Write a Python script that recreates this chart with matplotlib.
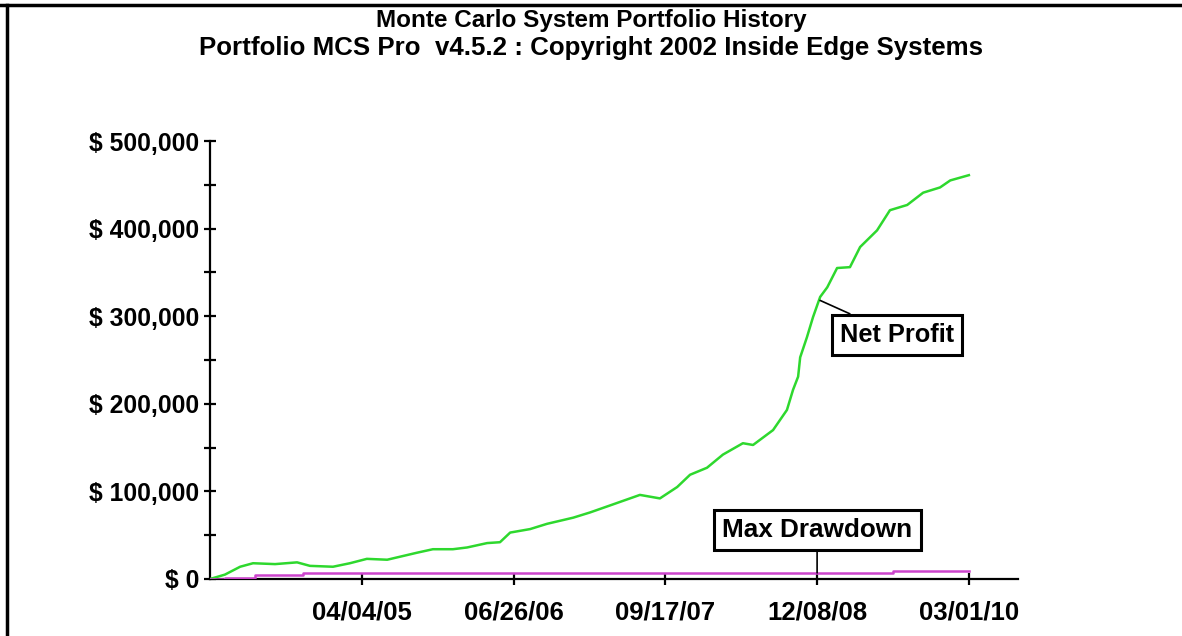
import matplotlib
matplotlib.use("Agg")
import matplotlib.pyplot as plt
import pandas as pd
from matplotlib.lines import Line2D
from matplotlib.ticker import FuncFormatter, MultipleLocator

# ---- data ----
profit_dates = [
    "2004-01-12", "2004-02-25", "2004-04-10", "2004-05-18", "2004-07-22", "2004-09-25",
    "2004-11-02", "2005-01-09", "2005-02-28", "2005-04-19", "2005-06-18", "2005-09-14",
    "2005-10-31", "2005-12-29", "2006-02-09", "2006-04-09", "2006-05-17", "2006-06-16",
    "2006-08-14", "2006-10-03", "2006-12-19", "2007-02-07", "2007-04-07", "2007-05-21",
    "2007-07-04", "2007-09-01", "2007-10-22", "2007-11-29", "2008-01-18", "2008-03-05",
    "2008-05-03", "2008-06-02", "2008-07-31", "2008-09-10", "2008-09-28", "2008-10-13",
    "2008-10-19", "2008-11-08", "2008-11-26", "2008-12-17", "2009-01-07", "2009-02-05",
    "2009-03-15", "2009-04-14", "2009-06-03", "2009-07-11", "2009-08-31", "2009-10-17",
    "2009-12-06", "2010-01-05", "2010-03-01",
]
profit_values = [
    0, 5000, 14000, 18000, 17000, 19000,
    15000, 14000, 18000, 23000, 22000, 30000,
    34000, 34000, 36000, 41000, 42000, 53000,
    57000, 63000, 70000, 76000, 84000, 90000,
    96000, 92000, 105000, 119000, 127000, 142000,
    155000, 153000, 170000, 193000, 216000, 231000,
    253000, 276000, 299000, 322000, 333000, 355000,
    356000, 379000, 398000, 421000, 427000, 441000,
    447000, 455000, 461000,
]

drawdown_dates = ["2004-01-12", "2004-02-25", "2004-05-24", "2004-10-12", "2009-07-20", "2010-03-01"]
drawdown_values = [0, 1500, 4500, 7000, 9000, 9000]

tick_dates = ["2005-04-04", "2006-06-26", "2007-09-17", "2008-12-08", "2010-03-01"]
tick_labels = ["04/04/05", "06/26/06", "09/17/07", "12/08/08", "03/01/10"]
y_ticks = [0, 100000, 200000, 300000, 400000, 500000]

title_lines = ["Monte Carlo System Portfolio History",
               "Portfolio MCS Pro  v4.5.2 : Copyright 2002 Inside Edge Systems"]

# ---- figure ----
W, H = 1182, 636
fig = plt.figure(figsize=(W / 100, H / 100), dpi=100)
fig.patch.set_facecolor("white")
plt.rcParams["font.family"] = ["Liberation Sans", "DejaVu Sans"]

def fx(px):
    return px / W

def fy(py):
    return 1 - py / H

ax = fig.add_axes([fx(210), fy(579), fx(1018) - fx(210), fy(141) - fy(579)])

pd_profit = pd.to_datetime(profit_dates)
pd_dd = pd.to_datetime(drawdown_dates)

ax.plot(pd_profit, profit_values, color="#2ed82e", lw=1.8, zorder=3)
ax.plot(pd_dd, drawdown_values, color="#cc44cc", lw=1.8, drawstyle="steps-post", zorder=3)

ax.set_xlim(pd.Timestamp("2004-01-12"), pd.Timestamp("2010-07-24"))
ax.set_ylim(0, 500000)

for s in ["top", "right"]:
    ax.spines[s].set_visible(False)
for s in ["left", "bottom"]:
    ax.spines[s].set_linewidth(1.6)
    ax.spines[s].set_color("black")
    ax.spines[s].set_zorder(2)

ax.set_xticks(pd.to_datetime(tick_dates))
ax.set_xticklabels(tick_labels)
ax.set_yticks(y_ticks)
ax.yaxis.set_major_formatter(FuncFormatter(lambda v, p: "$ 0" if v == 0 else "$ {:,.0f}".format(v)))
ax.yaxis.set_minor_locator(MultipleLocator(50000))

ax.tick_params(axis="both", which="both", direction="inout", length=9, width=1.6, colors="black")
ax.tick_params(axis="y", which="major", pad=3, labelsize=17.8)
ax.tick_params(axis="x", which="major", pad=11, labelsize=18.5)
for lab in ax.get_xticklabels() + ax.get_yticklabels():
    lab.set_fontweight("bold")

# titles
fig.text(0.5, fy(21), title_lines[0], ha="center", va="center", fontsize=17.5, fontweight="bold")
fig.text(0.5, fy(48), title_lines[1], ha="center", va="center", fontsize=18.6, fontweight="bold")

# annotations
ax.annotate("Net Profit", xy=(pd.Timestamp("2008-12-17"), 318000),
            xytext=(pd.Timestamp("2009-08-01"), 278500),
            ha="center", va="center", fontsize=18.3, fontweight="bold",
            bbox=dict(boxstyle="square,pad=0.32", fc="white", ec="black", lw=2.2),
            arrowprops=dict(arrowstyle="-", color="black", lw=1.2, shrinkA=0, shrinkB=0),
            zorder=5)
ax.annotate("Max Drawdown", xy=(pd.Timestamp("2008-12-08"), 7000),
            xytext=(pd.Timestamp("2008-12-08"), 56000),
            ha="center", va="center", fontsize=18.8, fontweight="bold",
            bbox=dict(boxstyle="square,pad=0.32", fc="white", ec="black", lw=2.2),
            arrowprops=dict(arrowstyle="-", color="black", lw=1.2, shrinkA=0, shrinkB=0),
            zorder=5)

# image border (top and left)
fig.add_artist(Line2D([0, 1], [fy(5), fy(5)], transform=fig.transFigure, color="black", lw=2.5))
fig.add_artist(Line2D([fx(7), fx(7)], [0, fy(5)], transform=fig.transFigure, color="black", lw=2.5))

fig.savefig("out.png", dpi=100, facecolor="white")
